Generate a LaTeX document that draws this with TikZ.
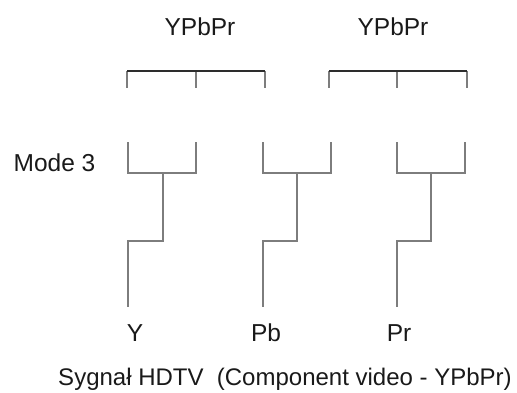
\documentclass[tikz,border=0pt]{standalone}
\usepackage{fontspec}
\setmainfont{Liberation Sans}
\usetikzlibrary{positioning}
\definecolor{wire}{RGB}{125,125,125}
\definecolor{bar}{RGB}{45,45,45}
\definecolor{ink}{RGB}{25,25,25}

\begin{document}
\begin{tikzpicture}[x=1pt,y=-1pt,line width=1.2pt,
    lbl/.style={inner sep=0pt,anchor=base,text=ink,font=\fontsize{24.5}{29}\selectfont},
    captxt/.style={inner sep=0pt,anchor=base,text=ink,font=\fontsize{24}{28}\selectfont}]
  \useasboundingbox (0,0) rectangle (517,392);
  % labels
  \node[lbl] (src_a) at (200,35) {YPbPr};
  \node[lbl] (src_b) at (393,35) {YPbPr};
  \node[lbl,anchor=base west] (mode) at (13,171) {Mode 3};
  \node[lbl] (out_y) at (135,341) {Y};
  \node[lbl] (out_pb) at (266,341) {Pb};
  \node[lbl] (out_pr) at (399,341) {Pr};
  \node[captxt] (caption) at (285,385) {Sygnał HDTV\ \ (Component video - YPbPr)};
  % upper brackets
  \coordinate (ua_l) at (127,71);  \coordinate (ua_lb) at (127,88);
  \coordinate (ua_m) at (196,71);  \coordinate (ua_mb) at (196,88);
  \coordinate (ua_r) at (265,71);  \coordinate (ua_rb) at (265,88);
  \coordinate (ub_l) at (329,71);  \coordinate (ub_lb) at (329,88);
  \coordinate (ub_m) at (397,71);  \coordinate (ub_mb) at (397,88);
  \coordinate (ub_r) at (467,71);  \coordinate (ub_rb) at (467,88);
  \draw[wire] (ua_l) -- (ua_lb) (ua_m) -- (ua_mb) (ua_r) -- (ua_rb);
  \draw[wire] (ub_l) -- (ub_lb) (ub_m) -- (ub_mb) (ub_r) -- (ub_rb);
  \draw[bar] (ua_l) -- (ua_r) (ub_l) -- (ub_r);
  % lower brackets
  \coordinate (y_lt) at (128,142); \coordinate (y_lb) at (128,173);
  \coordinate (y_rt) at (196,142); \coordinate (y_rb) at (196,173);
  \coordinate (y_m) at (163,173);  \coordinate (y_k) at (163,241);
  \coordinate (y_j) at (128,241);  \coordinate (y_e) at (128,307);
  \coordinate (pb_lt) at (263,142); \coordinate (pb_lb) at (263,173);
  \coordinate (pb_rt) at (331,142); \coordinate (pb_rb) at (331,173);
  \coordinate (pb_m) at (297,173);  \coordinate (pb_k) at (297,241);
  \coordinate (pb_j) at (263,241);  \coordinate (pb_e) at (263,307);
  \coordinate (pr_lt) at (397,142); \coordinate (pr_lb) at (397,173);
  \coordinate (pr_rt) at (465,142); \coordinate (pr_rb) at (465,173);
  \coordinate (pr_m) at (431,173);  \coordinate (pr_k) at (431,241);
  \coordinate (pr_j) at (397,241);  \coordinate (pr_e) at (397,307);
  \draw[wire] (y_lt) -- (y_lb) -- (y_rb) -- (y_rt);
  \draw[wire] (y_m) -- (y_k) -- (y_j) -- (y_e);
  \draw[wire] (pb_lt) -- (pb_lb) -- (pb_rb) -- (pb_rt);
  \draw[wire] (pb_m) -- (pb_k) -- (pb_j) -- (pb_e);
  \draw[wire] (pr_lt) -- (pr_lb) -- (pr_rb) -- (pr_rt);
  \draw[wire] (pr_m) -- (pr_k) -- (pr_j) -- (pr_e);
\end{tikzpicture}
\end{document}
